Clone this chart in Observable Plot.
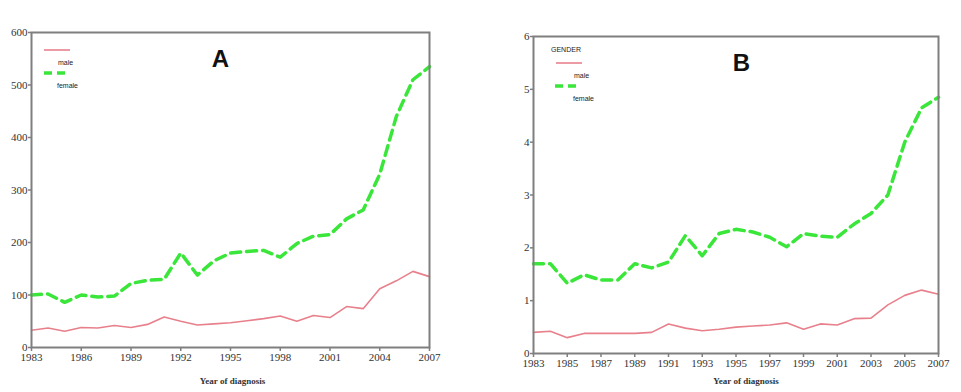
<!DOCTYPE html>
<html><head><meta charset="utf-8">
<script src="https://cdn.jsdelivr.net/npm/d3@7"></script>
<script src="https://cdn.jsdelivr.net/npm/@observablehq/plot@0.6"></script>
<style>
body{margin:0;background:#fff;width:961px;height:392px;overflow:hidden;position:relative}
.panel{position:absolute;top:0}
#a{left:0}#b{left:480px}
.leg{position:absolute;font-family:"Liberation Sans",Arial,sans-serif;font-size:7px;color:#222;line-height:1;white-space:nowrap}
.legsvg{position:absolute;overflow:visible}
g[aria-label="x-axis tick label"] text, g[aria-label="y-axis tick label"] text{font-family:"Liberation Serif","Times New Roman",serif !important;}
</style></head><body>
<div id="a" class="panel"></div><div id="b" class="panel"></div>
<script>
// ---- data ----
const years = [1983,1984,1985,1986,1987,1988,1989,1990,1991,1992,1993,1994,1995,1996,1997,1998,1999,2000,2001,2002,2003,2004,2005,2006,2007];
const maleA   = [33,37,31,38,37,42,38,44,58,50,43,45,47,51,55,60,50,61,57,78,74,112,127,145,135];
const femaleA = [100,102,86,100,96,98,122,128,130,180,138,165,180,183,185,172,198,212,215,245,262,330,440,510,535];
const maleB   = [0.40,0.42,0.30,0.38,0.38,0.38,0.38,0.40,0.56,0.48,0.43,0.46,0.50,0.52,0.54,0.58,0.46,0.56,0.54,0.66,0.67,0.92,1.10,1.20,1.12];
const femaleB = [1.70,1.70,1.33,1.49,1.39,1.39,1.70,1.62,1.73,2.23,1.85,2.27,2.35,2.30,2.20,2.02,2.27,2.22,2.20,2.45,2.65,3.00,4.00,4.65,4.85];
const xTicksA = [1983,1986,1989,1992,1995,1998,2001,2004,2007];
const xTicksB = [1983,1985,1987,1989,1991,1993,1995,1997,1999,2001,2003,2005,2007];
const yTicksA = [0,100,200,300,400,500,600];
const yTicksB = [0,1,2,3,4,5,6];
const panelLetters = ["A","B"];
const xTitle = "Year of diagnosis";
const legendTitleB = "GENDER";
const seriesNames = ["male","female"];

const maleColor = "#e8808c";
const femaleColor = "#3ae63a";
const frameColor = "#7f7f7f";
const serif = "Liberation Serif";

function panel(o){
  const m = years.map((y,i)=>({year:y, v:o.male[i]}));
  const f = years.map((y,i)=>({year:y, v:o.female[i]}));
  return Plot.plot({
    width:o.width, height:392,
    marginLeft:o.ml, marginRight:o.mr, marginTop:o.mt, marginBottom:o.mb,
    style:{fontFamily:serif, fontSize:"11px", color:"#333", background:"#fff"},
    x:{domain:[1983,2007]},
    y:{domain:o.yDomain},
    marks:[
      Plot.axisX(o.xTicks,{tickSize:4, tickPadding:2, tickFormat:d=>String(d), label:null, stroke:frameColor, strokeWidth:1.5, fontFamily:serif, fontSize:11, fill:"#333"}),
      Plot.axisY(o.yTicks,{tickSize:3, tickPadding:1, tickFormat:d=>String(d), label:null, stroke:frameColor, strokeWidth:1.5, fontFamily:serif, fontSize:11, fill:"#333"}),
      Plot.line(m,{x:"year", y:"v", stroke:maleColor, strokeWidth:1.6}),
      Plot.line(f,{x:"year", y:"v", stroke:femaleColor, strokeWidth:3.5, strokeDasharray:"10,6"}),
      Plot.frame({stroke:frameColor, strokeWidth:2}),
      Plot.text([o.letter],{frameAnchor:"top-left", dx:o.ldx, dy:o.ldy, textAnchor:"middle", lineAnchor:"middle", fontSize:24, fontWeight:"bold", fontFamily:"Liberation Sans", fill:"#111"}),
      Plot.text([xTitle],{frameAnchor:"bottom", dx:o.tdx, dy:o.tdy, lineAnchor:"middle", fontSize:9, fontWeight:"bold", fontFamily:serif, fill:"#333"})
    ]
  });
}

document.getElementById("a").append(panel({male:maleA, female:femaleA, yDomain:[0,600], xTicks:xTicksA, yTicks:yTicksA,
  width:480, ml:31, mr:51, mt:32, mb:45, letter:panelLetters[0], ldx:189, ldy:27, tdx:2, tdy:34}));
document.getElementById("b").append(panel({male:maleB, female:femaleB, yDomain:[0,6], xTicks:xTicksB, yTicks:yTicksB,
  width:481, ml:53, mr:23, mt:36, mb:39, letter:panelLetters[1], ldx:208, ldy:27, tdx:10, tdy:28}));

// ---- legends ----
function legend(left, top, title, items){
  let y = top;
  if(title){
    const t=document.createElement("div"); t.className="leg"; t.textContent=title;
    t.style.left=left+"px"; t.style.top=(y-4)+"px"; document.body.append(t); y+=13;
  }
  items.forEach(it=>{
    const s=d3.create("svg").attr("class","legsvg").attr("width",27).attr("height",6)
      .style("left",(it.lx)+"px").style("top",(y-3)+"px");
    s.append("line").attr("x1",0).attr("x2",26).attr("y1",3).attr("y2",3)
      .attr("stroke",it.color).attr("stroke-width",it.w).attr("stroke-dasharray",it.dash||null);
    document.body.append(s.node());
    const t=document.createElement("div"); t.className="leg"; t.textContent=it.name;
    t.style.left=it.tx+"px"; t.style.top=(y+9)+"px"; document.body.append(t);
    y+=23;
  });
}
legend(0,50,null,[
  {name:seriesNames[0], color:maleColor, w:1.6, lx:44, tx:58},
  {name:seriesNames[1], color:femaleColor, w:3.5, dash:"8,5", lx:44, tx:57}
]);
legend(551,50,legendTitleB,[
  {name:seriesNames[0], color:maleColor, w:1.6, lx:556, tx:574},
  {name:seriesNames[1], color:femaleColor, w:3.5, dash:"8,5", lx:555, tx:573}
]);
</script>
</body></html>
